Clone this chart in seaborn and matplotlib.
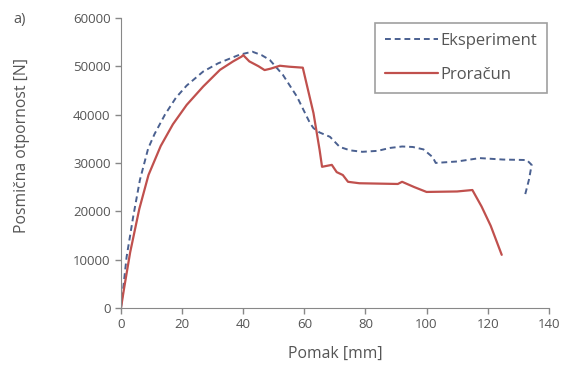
import matplotlib
matplotlib.use('Agg')
import matplotlib.pyplot as plt
import seaborn as sns

# Eksperiment (dashed) - displacement [mm], shear resistance [N]
exp_x = [0, 0.8, 1.85, 4, 6.2, 8.9, 11, 14.4, 18, 21.5, 26.9, 31.8, 35.7, 38.9, 43,
         46, 48.7, 53, 57.6, 61.8, 63, 65, 68.4, 71.6, 75, 79, 84, 88, 92, 95.5,
         99, 102, 103, 110, 117.4, 125, 132.8, 134.4, 133.5, 132]
exp_y = [0, 4500, 10600, 18900, 26500, 33000, 36000, 40000, 43500, 46000, 48900,
         50600, 51600, 52400, 53000, 52300, 51300, 48200, 43700, 38300, 37200,
         36300, 35400, 33300, 32600, 32300, 32500, 33100, 33400, 33300, 32800,
         31200, 30000, 30300, 31000, 30700, 30600, 29600, 26500, 22800]

# Proračun (solid)
calc_x = [0, 1, 3, 6, 9, 13, 17, 21.5, 26.9, 32.4, 36.7, 39.5, 40, 42, 45, 47, 49,
          51, 52, 55, 59.5, 60.5, 63, 65, 65.8, 69, 70.6, 72.6, 74.3, 78, 90.6, 92,
          96, 100, 110, 115, 118, 121, 124.6]
calc_y = [0, 4000, 11500, 20500, 27500, 33500, 38000, 42000, 45800, 49250, 51000,
          52000, 52300, 51000, 50000, 49200, 49500, 49900, 50100, 49900, 49700,
          47000, 40300, 32700, 29200, 29600, 28100, 27500, 26100, 25800, 25650,
          26100, 25000, 24000, 24100, 24400, 21000, 17000, 11000]

sns.set_style('white')
plt.rcParams['font.family'] = ['Open Sans', 'DejaVu Sans']

fig = plt.figure(figsize=(5.64, 3.72), dpi=100)
ax = fig.add_axes([0.2145, 0.172, 0.7585, 0.78])

sns.lineplot(x=exp_x, y=exp_y, sort=False, ax=ax, color='#4a6090', lw=1.4,
             linestyle=(0, (3, 2)), label='Eksperiment')
sns.lineplot(x=calc_x, y=calc_y, sort=False, ax=ax, color='#c0504d', lw=1.6,
             label='Proračun')

ax.set_xlim(0, 140)
ax.set_ylim(0, 60000)
ax.set_xticks(range(0, 141, 20))
ax.set_yticks(range(0, 60001, 10000))
ax.set_xlabel('Pomak [mm]', fontsize=11.3, color='#555555')
ax.set_ylabel('Posmična otpornost [N]', fontsize=11.3, color='#555555')
ax.xaxis.set_label_coords(0.5, -0.131)
ax.yaxis.set_label_coords(-0.213, 0.559)
ax.tick_params(direction='out', length=4, width=1, colors='#888888',
               labelcolor='#555555', labelsize=9.5, left=True, bottom=True)
for s in ['top', 'right']:
    ax.spines[s].set_visible(False)
for s in ['left', 'bottom']:
    ax.spines[s].set_color('#888888')

leg = ax.legend(loc='upper right', bbox_to_anchor=(0.995, 0.983), borderaxespad=0,
                fontsize=12, frameon=True, fancybox=False, handlelength=3.2,
                handletextpad=0.1, borderpad=0.6, labelspacing=1.1)
leg.get_frame().set_edgecolor('#888888')
leg.get_frame().set_linewidth(1.2)
for t in leg.get_texts():
    t.set_color('#555555')

fig.text(20 / 564, 1 - 20 / 372, 'a)', fontsize=10.5, color='#555555',
         ha='center', va='center')

fig.savefig('out.png', dpi=100)
